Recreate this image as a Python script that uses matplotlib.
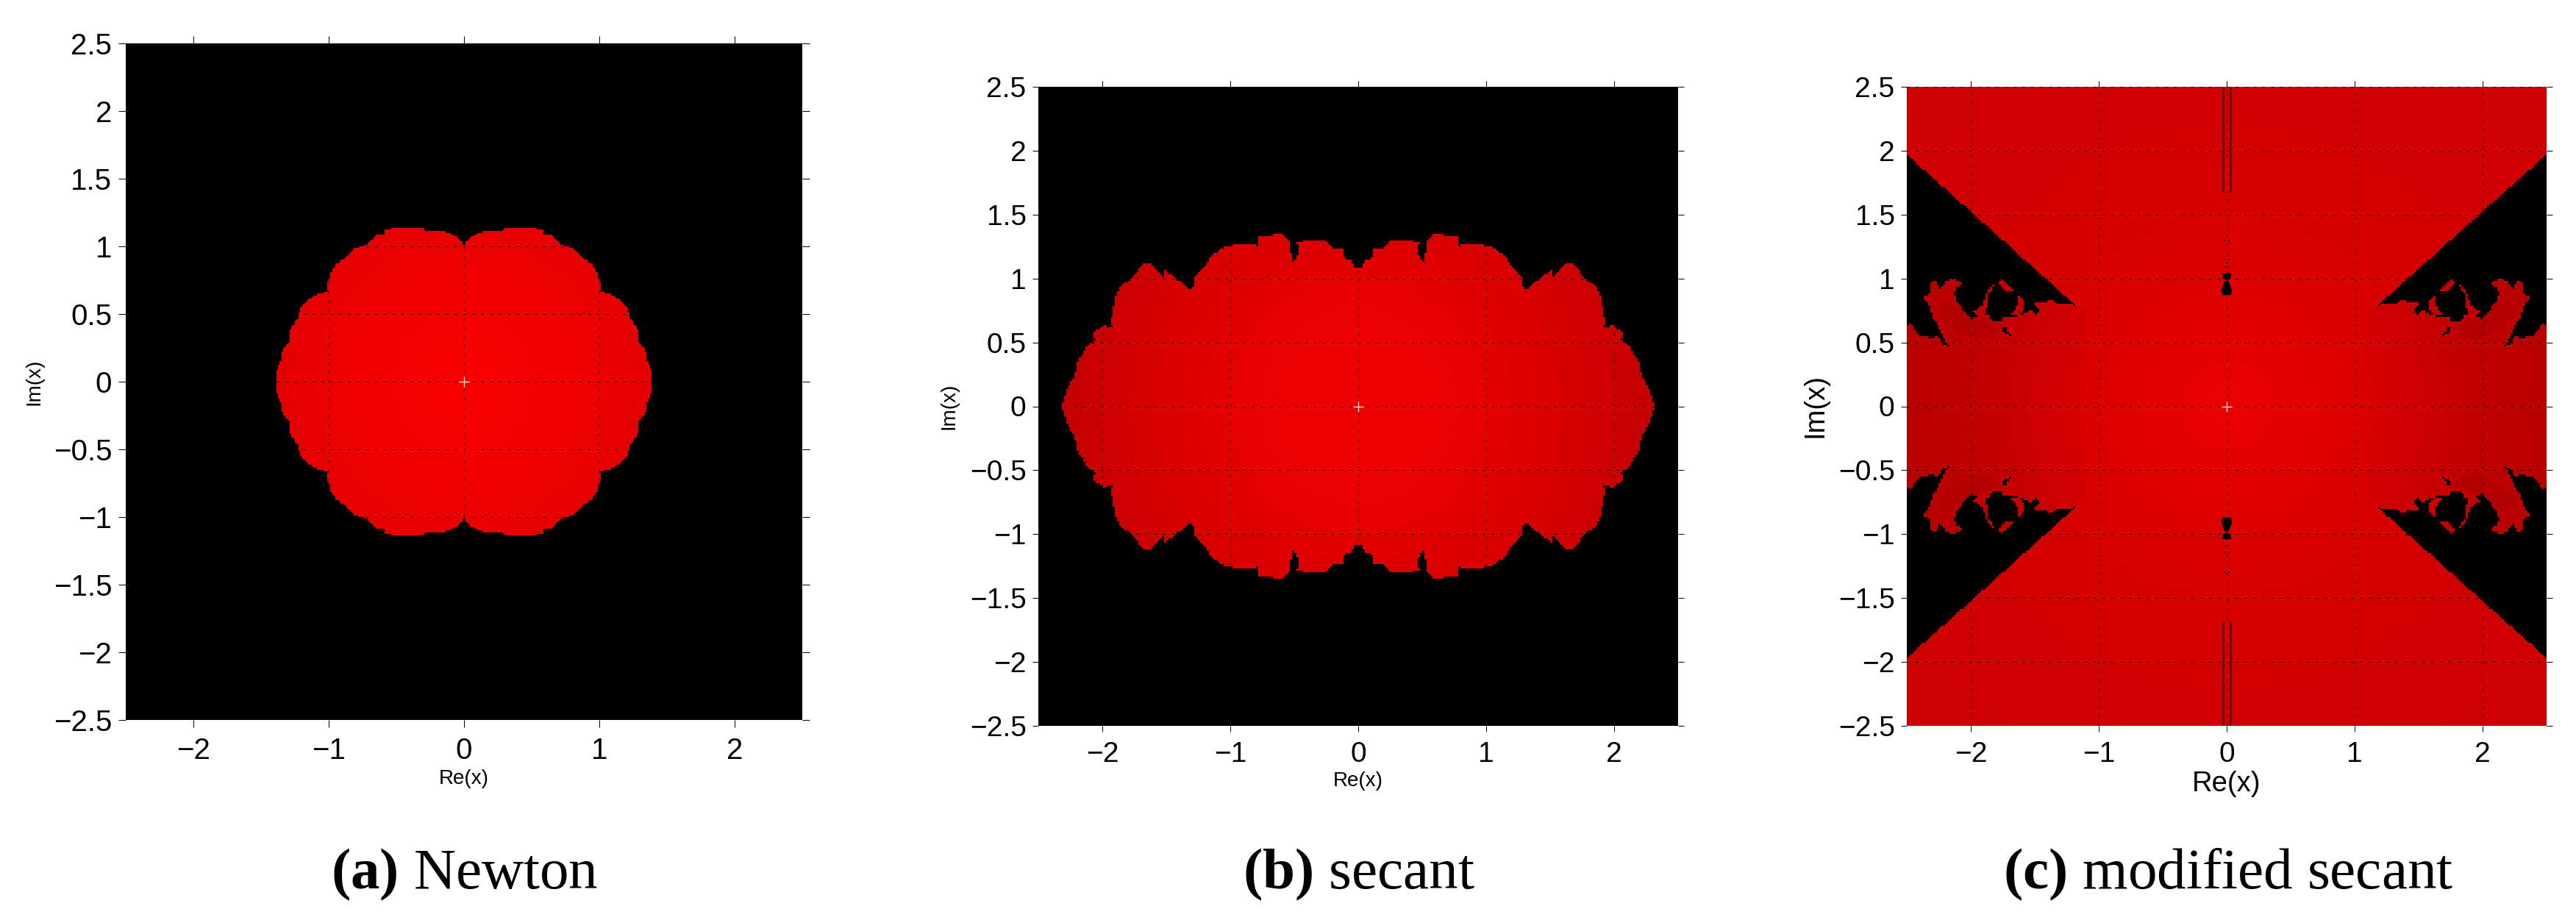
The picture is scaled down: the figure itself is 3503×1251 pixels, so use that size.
import numpy as np
import matplotlib
matplotlib.use("Agg")
import matplotlib.pyplot as plt
from matplotlib.path import Path

plt.rcParams['font.family'] = ['Liberation Sans', 'DejaVu Sans']
plt.rcParams['lines.scale_dashes'] = False
plt.rcParams['mathtext.fontset'] = 'custom'
plt.rcParams['mathtext.rm'] = 'Liberation Serif'
plt.rcParams['mathtext.bf'] = 'Liberation Serif:bold'

W, H = 3503, 1251
DPI = 100

x_ticks = [-2, -1, 0, 1, 2]
y_ticks = [-2.5, -2, -1.5, -1, -0.5, 0, 0.5, 1, 1.5, 2, 2.5]
y_tick_labels = ['\u22122.5', '\u22122', '\u22121.5', '\u22121', '\u22120.5', '0', '0.5', '1', '1.5', '2', '2.5']
captions = [r'$\mathbf{(a)}$ Newton', r'$\mathbf{(b)}$ secant', r'$\mathbf{(c)}$ modified secant']

# basin boundary, first quadrant (mirrored by symmetry)
newton_x = [0.0, 0.004, 0.01, 0.053, 0.107, 0.161, 0.261, 0.27, 0.306, 0.52, 0.582, 0.587, 0.647, 0.719, 0.804, 0.868,
            0.949, 0.98, 0.995, 1.016, 1.004, 1.103, 1.203, 1.234, 1.293, 1.293, 1.342, 1.357, 1.384, 1.393, 0.0]
newton_y = [0.97, 0.993, 1.029, 1.074, 1.098, 1.116, 1.116, 1.105, 1.138, 1.138, 1.12, 1.089, 1.087, 1.011, 0.984, 0.92,
            0.866, 0.812, 0.757, 0.712, 0.663, 0.64, 0.558, 0.458, 0.377, 0.29, 0.232, 0.15, 0.087, 0.0, 0.0]

secant_x = [0.0, 0.035, 0.054, 0.108, 0.121, 0.188, 0.265, 0.38, 0.476, 0.467, 0.505, 0.521, 0.53, 0.553, 0.596, 0.649,
            0.697, 0.774, 0.788, 0.861, 0.957, 1.072, 1.149, 1.187, 1.274, 1.287, 1.312, 1.437, 1.495, 1.524, 1.524,
            1.648, 1.725, 1.725, 1.793, 1.831, 1.889, 1.908, 1.933, 1.917, 1.995, 2.067, 2.052, 2.119, 2.158, 2.206,
            2.21, 2.254, 2.292, 2.321, 0.0]
secant_y = [1.07, 1.096, 1.141, 1.16, 1.227, 1.237, 1.304, 1.308, 1.276, 1.198, 1.135, 1.141, 1.266, 1.318, 1.353, 1.353,
            1.33, 1.333, 1.256, 1.266, 1.266, 1.233, 1.179, 1.112, 1.015, 0.929, 0.909, 1.015, 1.054, 1.089, 1.012,
            1.131, 1.073, 1.044, 0.977, 0.967, 0.881, 0.784, 0.669, 0.611, 0.63, 0.572, 0.514, 0.486, 0.408, 0.322,
            0.225, 0.187, 0.081, 0.0, 0.0]

# modified secant: black wedge, first quadrant
wedge_x = [2.6, 2.5, 1.131, 1.188, 1.236, 1.332, 1.365, 1.399, 1.509, 1.489, 1.457, 1.489, 1.534, 1.572, 1.649, 1.739,
           1.754, 1.835, 1.85, 1.885, 1.956, 1.994, 2.042, 2.119, 2.132, 2.1, 2.058, 2.09, 2.138, 2.186, 2.215, 2.244,
           2.282, 2.324, 2.311, 2.321, 2.353, 2.369, 2.33, 2.292, 2.234, 2.186, 2.157, 2.215, 2.253, 2.292, 2.397,
           2.436, 2.474, 2.503, 2.6]
wedge_y = [1.97, 1.97, 0.746, 0.784, 0.803, 0.807, 0.838, 0.823, 0.813, 0.784, 0.75, 0.713, 0.755, 0.73, 0.703, 0.698,
           0.665, 0.659, 0.707, 0.73, 0.698, 0.688, 0.736, 0.832, 0.89, 0.938, 0.954, 0.981, 0.996, 0.986, 0.948, 0.919,
           0.996, 0.948, 0.909, 0.881, 0.871, 0.842, 0.794, 0.688, 0.592, 0.486, 0.466, 0.486, 0.553, 0.538, 0.549,
           0.592, 0.649, 0.62, 0.486]
blob_x = [1.668, 1.754, 1.779, 1.774, 1.716]
blob_y = [0.909, 0.996, 0.977, 0.948, 0.896]
arc_r_x = [1.802, 1.841, 1.889, 1.898, 1.979, 1.946, 1.879, 1.87, 1.873, 1.831]
arc_r_y = [0.977, 0.938, 0.861, 0.794, 0.742, 0.698, 0.736, 0.803, 0.852, 0.919]
arc_l_x = [1.572, 1.62, 1.639, 1.63, 1.681, 1.649, 1.597]
arc_l_y = [0.803, 0.865, 0.861, 0.803, 0.717, 0.707, 0.736]
slit_x = [1.668, 1.726, 1.758, 1.745, 1.706]
slit_y = [0.52, 0.62, 0.63, 0.592, 0.557]
plume_x = [1.75, 1.85, 1.95, 2.1, 2.25, 2.25, 2.1, 1.95, 1.82]
plume_y = [0.63, 0.66, 0.69, 0.8, 0.85, 0.72, 0.58, 0.52, 0.55]

# colour bands: outer radius of each band and its red level
newton_radii = [0.2, 0.4, 0.55, 0.7, 0.85, 0.95, 1.1, 1.25]
newton_reds = [248, 246, 244, 242, 240, 238, 235, 232, 229]
secant_radii = [0.62, 0.8, 1.0, 1.2, 1.4, 1.6, 1.8, 2.0, 2.15]
secant_reds = [238, 234, 230, 226, 222, 218, 213, 208, 203, 198]
mod_radii = [0.2, 0.35, 0.55, 0.7, 0.85, 1.0, 1.25, 1.5, 1.85, 2.2, 3.0]
mod_reds = [234, 231, 228, 226, 224, 222, 219, 216, 214, 212, 208, 206]
side_radii = [1.15, 1.25, 1.4, 1.55, 1.7, 1.85, 2.0, 2.15, 2.3, 2.45]
side_reds = [218, 214, 210, 206, 202, 198, 195, 192, 189, 186, 183]

# dark features on the imaginary axis of panel (c)
stripe_x = [-0.026, 0.026]
stripe_top = [2.5, 1.68]
bell_x = [-0.015, 0.015, 0.03, 0.042, 0.03, -0.03, -0.042, -0.03]
bell_y = [0.98, 0.98, 0.94, 0.9, 0.87, 0.87, 0.9, 0.94]
bell2_x = [-0.035, 0.035, 0.03, 0.0, -0.03]
bell2_y = [1.04, 1.04, 1.0, 0.985, 1.0]
spot_x = [0.012, -0.012, 0.02, -0.02, 0.02, -0.02]
spot_y = [1.09, 1.09, 1.15, 1.15, 1.3, 1.3]

PANELS = [
    dict(px=(170.7, 1090.7, 59.3, 979.3), n=400, tick=7.2, fs=29),
    dict(px=(1412, 2282, 118, 987), n=300, tick=5.8, fs=28),
    dict(px=(2593, 3463, 118, 987), n=300, tick=5.8, fs=28),
]


def grid(n):
    c = -2.5 + (np.arange(n) + 0.5) * 5.0 / n
    return np.meshgrid(c, c)


def inside(xs, ys, X, Y):
    pts = np.column_stack([np.abs(X).ravel(), np.abs(Y).ravel()])
    return Path(np.column_stack([xs, ys])).contains_points(pts).reshape(X.shape)


def bands(X, Y, radii, reds):
    return np.asarray(reds, float)[np.digitize(np.hypot(X, Y), radii)]


def to_rgb(red):
    return np.dstack([red / 255.0, np.zeros_like(red), np.zeros_like(red)])


X, Y = grid(400)
red_a = bands(X, Y, newton_radii, newton_reds) * inside(newton_x, newton_y, X, Y)
X, Y = grid(300)
red_b = bands(X, Y, secant_radii, secant_reds) * inside(secant_x, secant_y, X, Y)
red_c = bands(X, Y, mod_radii, mod_reds)
side = (np.abs(Y) < 0.66 * np.abs(X)) & (np.abs(X) > 1.1)
red_c[side] = bands(X, Y, side_radii, side_reds)[side]
red_c[inside(plume_x, plume_y, X, Y)] = 180
dark = inside(wedge_x, wedge_y, X, Y)
for ix, iy in ((blob_x, blob_y), (arc_r_x, arc_r_y), (arc_l_x, arc_l_y)):
    dark &= ~inside(ix, iy, X, Y)
dark |= inside(slit_x, slit_y, X, Y)
red_c[dark] = 0
fields = [red_a, red_b, red_c]

fig = plt.figure(figsize=(W / DPI, H / DPI), dpi=DPI, facecolor='white')
axes = []
for p, red in zip(PANELS, fields):
    l, r, t, b = p['px']
    ax = fig.add_axes([l / W, 1 - b / H, (r - l) / W, (b - t) / H])
    ax.imshow(to_rgb(red), origin='lower', extent=[-2.5, 2.5, -2.5, 2.5], interpolation='nearest', aspect='auto')
    ax.set_xlim(-2.5, 2.5)
    ax.set_ylim(-2.5, 2.5)
    ax.set_xticks(x_ticks)
    ax.set_xticklabels([str(v).replace('-', '\u2212') for v in x_ticks])
    ax.set_yticks(y_ticks)
    ax.set_yticklabels(y_tick_labels)
    ax.tick_params(direction='out', length=p['tick'], width=0.72, top=True, right=True,
                   labelsize=p['fs'], colors='black')
    ax.tick_params(axis='x', pad=9)
    ax.tick_params(axis='y', pad=6)
    for s in ax.spines.values():
        s.set_visible(False)
    ax.grid(True, color='black', linewidth=0.72, linestyle=(0, (2.2, 6.5)))
    ax.set_axisbelow(False)
    ax.plot([0], [0], '+', color='white', markersize=10.5, markeredgewidth=0.9, zorder=5)
    axes.append(ax)

axc = axes[2]
for sx in (1, -1):
    for sign_x in stripe_x:
        axc.plot([sign_x, sign_x], [sx * stripe_top[0], sx * stripe_top[1]], color='#6a0000',
                 linewidth=2.0, solid_capstyle='butt', zorder=2)
    axc.fill(bell_x, sx * np.array(bell_y), color='black', linewidth=0, zorder=2)
    axc.fill(bell2_x, sx * np.array(bell2_y), color='black', linewidth=0, zorder=2)
    axc.plot(spot_x, sx * np.array(spot_y), 's', color='#300000', markersize=2.0, markeredgewidth=0, zorder=2)

label_specs = [
    dict(rx=630.7, ry=1059, ix=46, iy=519, fs=20),
    dict(rx=1847, ry=1062, ix=1291, iy=552, fs=20),
    dict(rx=3028, ry=1066, ix=2469, iy=552, fs=27.5),
]
for s in label_specs:
    fig.text(s['rx'] / W, 1 - s['ry'] / H, 'Re(x)', ha='center', va='center', fontsize=s['fs'])
    fig.text(s['ix'] / W, 1 - s['iy'] / H, 'Im(x)', ha='center', va='center', rotation=90, fontsize=s['fs'])

for cx, txt in zip((632, 1848, 3030), captions):
    fig.text(cx / W, 1 - 1208 / H, txt, ha='center', va='baseline', fontsize=57,
             family=['Liberation Serif', 'DejaVu Serif'])

fig.savefig('out.png', dpi=DPI, facecolor='white')
